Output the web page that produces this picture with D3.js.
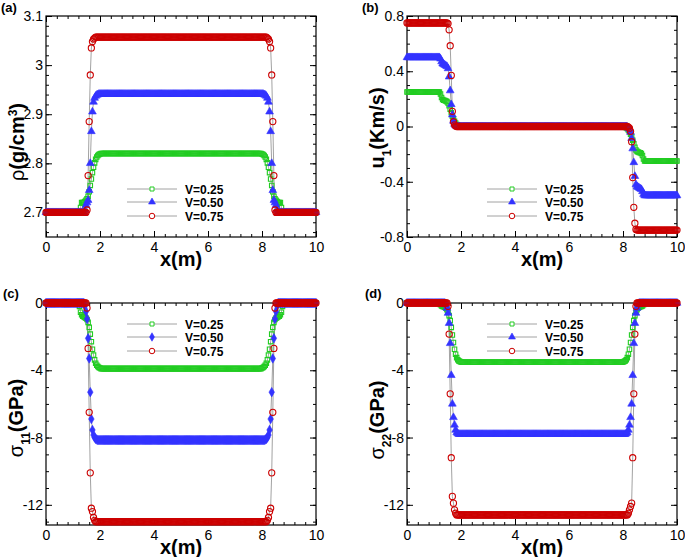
<!DOCTYPE html>
<html><head><meta charset="utf-8">
<script src="https://cdn.jsdelivr.net/npm/d3@7"></script>
<style>
body{margin:0;background:#fff}
text{font-family:"Liberation Sans",Arial,Helvetica,sans-serif}
</style>
</head><body>
<svg id="chart" width="685" height="557"></svg>
<script>
// repetition helper: numbers are pushed as-is, [value, count] repeats a plateau value
function runs(...parts){const out=[];for(const p of parts){if(Array.isArray(p)){for(let k=0;k<p[1];k++)out.push(p[0]);}else out.push(p);}return out;}

// shared grid of x positions (m), 251 nodes
const xGrid = d3.range(251).map(i => +(i*0.04).toFixed(2));
const seriesNames = ["V=0.25","V=0.50","V=0.75"];
const xTickValues = [0,2,4,6,8,10];

// (a) density rho (g/cm^3)
const rho025 = runs([2.70,32],2.71,2.72,2.72,2.72,2.722,2.725,2.728,2.733,2.742,2.755,2.768,2.781,2.792,2.801,2.808,2.813,2.816,2.818,2.819,[2.82,149],2.819,2.818,2.816,2.813,2.808,2.801,2.792,2.781,2.768,2.755,2.742,2.733,2.728,2.725,2.722,2.72,2.72,2.72,2.71,[2.70,32]);
const rho050 = runs([2.70,36],2.705,2.715,2.72,2.725,2.745,2.80,2.865,2.905,2.925,2.933,2.937,2.939,2.94,[2.941,153],2.94,2.939,2.937,2.933,2.925,2.905,2.865,2.80,2.745,2.725,2.72,2.715,2.705,[2.70,36]);
const rho075 = runs([2.70,38],2.705,2.775,2.885,2.98,3.035,3.048,3.053,3.055,[3.057,159],3.055,3.053,3.048,3.035,2.98,2.885,2.775,2.705,[2.70,38]);
const rhoTicks = [2.7,2.8,2.9,3,3.1];

// (b) velocity u1 (Km/s)
const u025 = runs([0.25,31],0.235,0.21,0.195,0.19,0.188,0.185,0.18,0.17,0.15,0.125,0.10,0.075,0.055,0.038,0.025,0.015,0.008,0.004,0.002,[0,151],-0.002,-0.004,-0.008,-0.015,-0.025,-0.038,-0.055,-0.075,-0.10,-0.125,-0.15,-0.17,-0.18,-0.185,-0.188,-0.19,-0.195,-0.21,-0.235,[-0.25,31]);
const u050 = runs([0.50,31],0.49,0.47,0.455,0.45,0.445,0.44,0.435,0.42,0.36,0.26,0.16,0.085,0.04,0.018,0.008,0.003,[0,157],-0.003,-0.008,-0.018,-0.04,-0.085,-0.16,-0.26,-0.36,-0.42,-0.435,-0.44,-0.445,-0.45,-0.455,-0.47,-0.49,[-0.50,31]);
const u075 = runs([0.75,38],0.745,0.70,0.585,0.37,0.11,0.035,0.012,0.004,[0,159],-0.004,-0.012,-0.035,-0.11,-0.37,-0.585,-0.70,-0.745,[-0.75,38]);
const uTicks = [-0.8,-0.4,0,0.4,0.8];

// (c) stress sigma11 (GPa)
const s11_025 = runs([0,31],-0.2,-0.55,-0.7,-0.78,-0.82,-0.86,-0.9,-0.98,-1.15,-1.45,-1.85,-2.3,-2.75,-3.1,-3.38,-3.58,-3.7,-3.78,-3.83,-3.86,[-3.9,149],-3.86,-3.83,-3.78,-3.7,-3.58,-3.38,-3.1,-2.75,-2.3,-1.85,-1.45,-1.15,-0.98,-0.9,-0.86,-0.82,-0.78,-0.7,-0.55,-0.2,[0,31]);
const s11_050 = runs([0,36],-0.15,-0.5,-0.95,-2.1,-3.3,-5.3,-6.9,-7.55,-7.85,-8.0,-8.08,-8.12,[-8.15,155],-8.12,-8.08,-8.0,-7.85,-7.55,-6.9,-5.3,-3.3,-2.1,-0.95,-0.5,-0.15,[0,36]);
const s11_075 = runs([0,38],-0.3,-2.7,-6.5,-10.1,-12.2,-12.4,-12.75,-12.92,[-13.0,159],-12.92,-12.75,-12.4,-12.2,-10.1,-6.5,-2.7,-0.3,[0,38]);

// (d) stress sigma22 (GPa)
const s22_025 = runs([0,31],-0.1,-0.18,-0.2,-0.22,-0.25,-0.3,-0.4,-0.55,-0.75,-1.05,-1.45,-1.9,-2.35,-2.75,-3.05,-3.25,-3.37,-3.44,-3.48,-3.5,[-3.52,149],-3.5,-3.48,-3.44,-3.37,-3.25,-3.05,-2.75,-2.35,-1.9,-1.45,-1.05,-0.75,-0.55,-0.4,-0.3,-0.25,-0.22,-0.2,-0.18,-0.1,[0,31]);
const s22_050 = runs([0,36],-0.1,-0.3,-0.6,-1.2,-2.4,-4.3,-6.0,-6.8,-7.25,-7.55,-7.7,-7.76,[-7.8,155],-7.76,-7.7,-7.55,-7.25,-6.8,-6.0,-4.3,-2.4,-1.2,-0.6,-0.3,-0.1,[0,36]);
const s22_075 = runs([0,38],-0.2,-1.85,-5.4,-9.2,-11.5,-11.9,-12.3,-12.5,[-12.6,159],-12.5,-12.3,-12.1,-11.9,-9.2,-5.4,-1.85,-0.2,[0,38]);
const sTicks = [-12,-8,-4,0];

const colors = ["#22cc22","#3333ff","#cc0000"];
const fills  = ["none","#3333ff","none"];
const sizes  = [20,26,30];

const panels = [
  {box:[46,316,16,237], yDomain:[2.65,3.1], yTicks:rhoTicks, yMinor:d3.range(2.66,3.095,0.02),
   data:[rho025,rho050,rho075], shapes:[d3.symbolSquare,d3.symbolTriangle,d3.symbolCircle],
   legend:{x0:127,x1:177,tx:185,ys:[189,202,216]},
   title:[["ρ","normal"],["(g/cm","bold"],["3","bold","super"],[")","bold"]], titlePos:[24,142],
   label:"(a)", labelPos:[1,12]},
  {box:[407,677,16,237], yDomain:[-0.8,0.8], yTicks:uTicks, yMinor:d3.range(-0.8,0.81,0.1),
   data:[u025,u050,u075], shapes:[d3.symbolSquare,d3.symbolTriangle,d3.symbolCircle],
   legend:{x0:487,x1:537,tx:545,ys:[189,202,216]},
   title:[["u","bold"],["1","bold","sub"],["(Km/s)","bold"]], titlePos:[384,128],
   label:"(b)", labelPos:[362,12]},
  {box:[46,316,303,525], yDomain:[-13.2,0], yTicks:sTicks, yMinor:d3.range(-13,0.01,1),
   data:[s11_025,s11_050,s11_075], shapes:[d3.symbolSquare,d3.symbolDiamond,d3.symbolCircle],
   legend:{x0:127,x1:177,tx:185,ys:[324,337,351]},
   title:[["σ","normal"],["11","bold","sub"],["(GPa)","bold"]], titlePos:[23,418],
   label:"(c)", labelPos:[3,298]},
  {box:[407,677,303,525], yDomain:[-13.2,0], yTicks:sTicks, yMinor:d3.range(-13,0.01,1),
   data:[s22_025,s22_050,s22_075], shapes:[d3.symbolSquare,d3.symbolTriangle,d3.symbolCircle],
   legend:{x0:487,x1:537,tx:545,ys:[324,337,351]},
   title:[["σ","normal"],["22","bold","sub"],["(GPa)","bold"]], titlePos:[384,420],
   label:"(d)", labelPos:[365,298]}
];

const svg = d3.select("#chart");
const fmt = d => String(+d.toFixed(2));

panels.forEach(p => {
  const [L,R,T,B] = p.box;
  const x = d3.scaleLinear().domain([0,10]).range([L,R]);
  const y = d3.scaleLinear().domain(p.yDomain).range([B,T]);
  const g = svg.append("g");

  // axes (ticks inward on all four sides)
  const xMinor = d3.range(0,10.001,0.4);
  const addAxis = (axis, tr) => {
    const a = g.append("g").attr("transform", tr).call(axis);
    a.select(".domain").remove();
    a.selectAll(".tick line").attr("stroke","#000").attr("stroke-width",1);
    a.selectAll("text").attr("font-size","14px").attr("fill","#000");
    return a;
  };
  addAxis(d3.axisBottom(x).tickValues(xMinor).tickSize(-3).tickFormat(""), `translate(0,${B})`);
  addAxis(d3.axisTop(x).tickValues(xMinor).tickSize(-3).tickFormat(""), `translate(0,${T})`);
  addAxis(d3.axisBottom(x).tickValues(xTickValues).tickSize(-6).tickPadding(5).tickFormat(fmt), `translate(0,${B})`);
  addAxis(d3.axisTop(x).tickValues(xTickValues).tickSize(-6).tickFormat(""), `translate(0,${T})`);
  addAxis(d3.axisLeft(y).tickValues(p.yMinor).tickSize(-3).tickFormat(""), `translate(${L},0)`);
  addAxis(d3.axisRight(y).tickValues(p.yMinor).tickSize(-3).tickFormat(""), `translate(${R},0)`);
  addAxis(d3.axisLeft(y).tickValues(p.yTicks).tickSize(-6).tickPadding(3).tickFormat(fmt), `translate(${L},0)`);
  addAxis(d3.axisRight(y).tickValues(p.yTicks).tickSize(-6).tickFormat(""), `translate(${R},0)`);

  // frame
  g.append("rect").attr("x",L).attr("y",T).attr("width",R-L).attr("height",B-T)
    .attr("fill","none").attr("stroke","#000").attr("stroke-width",1.2);

  // lines
  const line = d3.line().x((d,i)=>x(xGrid[i])).y(d=>y(d));
  p.data.forEach(vals => {
    g.append("path").datum(vals).attr("d",line).attr("fill","none")
      .attr("stroke","#8a8a8a").attr("stroke-width",0.8);
  });
  // markers
  p.data.forEach((vals,si) => {
    const sym = d3.symbol().type(p.shapes[si]).size(sizes[si]);
    g.append("g").selectAll("path").data(vals).join("path")
      .attr("transform",(d,i)=>`translate(${x(xGrid[i])},${y(d)})`)
      .attr("d",sym)
      .attr("fill",fills[si]).attr("stroke",colors[si]).attr("stroke-width",si===1?0.6:1.1);
  });

  // legend
  const lg = p.legend;
  seriesNames.forEach((name,si) => {
    const yy = lg.ys[si];
    g.append("line").attr("x1",lg.x0).attr("x2",lg.x1).attr("y1",yy).attr("y2",yy)
      .attr("stroke","#8a8a8a").attr("stroke-width",0.8);
    g.append("path").attr("transform",`translate(${(lg.x0+lg.x1)/2},${yy})`)
      .attr("d",d3.symbol().type(p.shapes[si]).size(sizes[si]*0.8)())
      .attr("fill",si===1?colors[1]:"#fff").attr("stroke",colors[si]).attr("stroke-width",si===1?0.6:1);
    g.append("text").attr("x",lg.tx).attr("y",yy+4.5).attr("font-size","12px")
      .attr("font-weight","bold").text(name);
  });

  // x title
  g.append("text").attr("x",(L+R)/2).attr("y",B+29).attr("text-anchor","middle")
    .attr("font-size","20px").attr("font-weight","bold").text("x(m)");

  // y title
  const t = g.append("text").attr("transform",`translate(${p.titlePos[0]},${p.titlePos[1]}) rotate(-90)`)
    .attr("text-anchor","middle").attr("font-size","20px");
  p.title.forEach(([s,w,shift]) => {
    const ts = t.append("tspan").text(s).attr("font-weight",w);
    if (shift) ts.attr("baseline-shift",shift).attr("font-size","12px");
  });

  // panel label
  g.append("text").attr("x",p.labelPos[0]).attr("y",p.labelPos[1]).attr("font-size","13px")
    .attr("font-weight","bold").text(p.label);
});
</script>
</body></html>
